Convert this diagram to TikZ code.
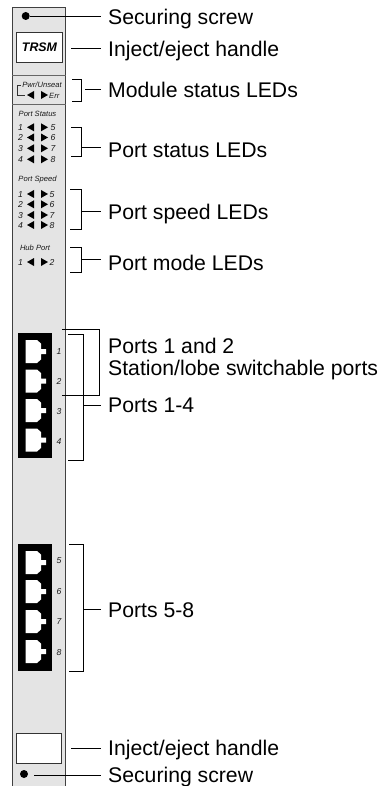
\documentclass[tikz,border=0pt]{standalone}
\usepackage{fontspec}
\setmainfont{Liberation Sans}
\tikzset{
  callout/.style = {anchor=west, inner ysep=0pt, inner xsep=7pt, align=left, text height=15pt, text depth=0pt, font=\fontsize{21.2}{22}\selectfont},
  leader/.style = {draw=black, line width=0.95pt},
  handle/.style = {draw=black!80, line width=1pt, fill=white, inner sep=0pt, minimum width=46pt, minimum height=30pt, anchor=north west},
  screw/.style = {circle, fill=black, inner sep=0pt, minimum size=8pt},
  tiny/.style = {inner sep=0pt, text=black!90, font=\fontsize{7.6}{8}\selectfont\itshape},
  digit/.style = {tiny, font=\fontsize{8.6}{9}\selectfont\itshape},
  jackblock/.style = {fill=black, inner sep=0pt, minimum width=34pt, anchor=north west},
  jack/.pic = {\fill[white] (0,0) -- (11.5,0) -- (15.5,3.5) -- (15.5,9) -- (20.5,9) -- (20.5,14) -- (15.5,14) -- (15.5,19.5) -- (11.5,23) -- (0,23) -- cycle;},
  ledpair/.pic = {\fill[black] (27,0) -- (34,-4) -- (34,4) -- cycle; \fill[black] (48,0) -- (41,-4) -- (41,4) -- cycle;}
}
\begin{document}
\begin{tikzpicture}[x=1pt, y=-1pt]
  \useasboundingbox (0,0) rectangle (381,786);
  % panel
  \fill[black!4!gray!20] (12,7.5) rectangle (65.7,786);
  \draw[black!75, line width=1pt] (12,786) -- (12,7.5) -- (65.7,7.5) -- (65.7,786);
  \draw[black!60, line width=0.8pt] (12,75) -- (65.7,75);
  \draw[black!60, line width=0.8pt] (12,104) -- (65.7,104);

  % top of the panel
  \node [screw] (topscrew) at (25.7,16) {};
  \node [handle, font=\fontsize{12.4}{13}\selectfont\bfseries\itshape] (tophandle) at (16,32) {TRSM};
  \node [callout] (topscrewtext) at (101,17) {Securing screw};
  \node [callout] (tophandletext) at (101,49) {Inject/eject handle};
  \draw [leader] (topscrew) -- (topscrew -| topscrewtext.west);
  \coordinate (tophandleend) at (71,48);
  \draw [leader] (tophandleend) -- (tophandleend -| tophandletext.west);

  % module status
  \node [tiny] (pwr) at (42,85) {Pwr/Unseat};
  \node [tiny, anchor=west] (err) at (49,95.5) {Err};
  \pic at (0,95) {ledpair};
  \draw [black!80, line width=0.6pt] (20.5,85) -- (17,85) -- (17,95) -- (25,95);
  \node [callout] (moduletext) at (101,90) {Module status LEDs};
  \coordinate (moduletop) at (72,79);
  \coordinate (modulebot) at (72,101);
  \coordinate (modulemid) at (85,89);
  \draw [leader] (moduletop) -- (81,79) -- (81,101) -- (modulebot);
  \draw [leader] (modulemid) -- (modulemid -| moduletext.west);

  % port status
  \node [tiny] (statustitle) at (37.5,113.7) {Port Status};
  \node [digit] (s1) at (20.5,127.5) {1}; \node [digit] (s5) at (53,127.5) {5}; \pic at (0,127.3) {ledpair};
  \node [digit] (s2) at (20.5,137.8) {2}; \node [digit] (s6) at (53,137.8) {6}; \pic at (0,137.5) {ledpair};
  \node [digit] (s3) at (20.5,148.5) {3}; \node [digit] (s7) at (53,148.5) {7}; \pic at (0,148.3) {ledpair};
  \node [digit] (s4) at (20.5,159.5) {4}; \node [digit] (s8) at (53,159.5) {8}; \pic at (0,159.3) {ledpair};
  \node [callout] (statustext) at (101,150) {Port status LEDs};
  \coordinate (statustop) at (71,127);
  \coordinate (statusbot) at (71,156);
  \coordinate (statusmid) at (81,147);
  \draw [leader] (statustop) -- (81,127) -- (81,156) -- (statusbot);
  \draw [leader] (statusmid) -- (statusmid -| statustext.west);

  % port speed
  \node [tiny] (speedtitle) at (37.5,180) {Port Speed};
  \node [digit] (p1) at (20.5,194.3) {1}; \node [digit] (p5) at (52,194.3) {5}; \pic at (0,194) {ledpair};
  \node [digit] (p2) at (20.5,204.6) {2}; \node [digit] (p6) at (52,204.6) {6}; \pic at (0,204.3) {ledpair};
  \node [digit] (p3) at (20.5,215.3) {3}; \node [digit] (p7) at (52,215.3) {7}; \pic at (0,215) {ledpair};
  \node [digit] (p4) at (20.5,225.3) {4}; \node [digit] (p8) at (52,225.3) {8}; \pic at (0,225) {ledpair};
  \node [callout] (speedtext) at (101,212) {Port speed LEDs};
  \coordinate (speedtop) at (70,189);
  \coordinate (speedbot) at (70,229);
  \coordinate (speedmid) at (81,211);
  \draw [leader] (speedtop) -- (81,189) -- (81,229) -- (speedbot);
  \draw [leader] (speedmid) -- (speedmid -| speedtext.west);

  % hub port
  \node [tiny] (hubtitle) at (35,248) {Hub Port};
  \node [digit] (h1) at (20.5,262.3) {1}; \node [digit] (h2) at (52,262.3) {2}; \pic at (0,262) {ledpair};
  \node [callout] (hubtext) at (101,263) {Port mode LEDs};
  \coordinate (hubtop) at (70,247);
  \coordinate (hubbot) at (70,272);
  \coordinate (hubmid) at (81,259);
  \draw [leader] (hubtop) -- (81,247) -- (81,272) -- (hubbot);
  \draw [leader] (hubmid) -- (hubmid -| hubtext.west);

  % ports 1 to 4
  \node [jackblock, minimum height=125pt] (blockone) at (18,333) {};
  \pic at (25.5,340) {jack};
  \pic at (25.5,369.5) {jack};
  \pic at (25.5,399) {jack};
  \pic at (25.5,428.5) {jack};
  \node [digit] (n1) at (59,352) {1};
  \node [digit] (n2) at (59,381) {2};
  \node [digit] (n3) at (59,412) {3};
  \node [digit] (n4) at (59,442) {4};
  \node [callout] (pairtext) at (101,368) {Ports 1 and 2\\Station/lobe switchable ports};
  \coordinate (pairtop) at (62,329);
  \coordinate (pairbot) at (62,395);
  \draw [leader] (pairtop) -- (99,329) -- (99,395) -- (pairbot);
  \node [callout] (fourtext) at (101,405) {Ports 1-4};
  \coordinate (fourtop) at (68,334);
  \coordinate (fourbot) at (68,460);
  \coordinate (fourmid) at (83,405);
  \draw [leader] (fourtop) -- (83,334) -- (83,460) -- (fourbot);
  \draw [leader] (fourmid) -- (fourmid -| fourtext.west);

  % ports 5 to 8
  \node [jackblock, minimum height=127pt] (blocktwo) at (18,544) {};
  \pic at (25.5,551) {jack};
  \pic at (25.5,580) {jack};
  \pic at (25.5,610) {jack};
  \pic at (25.5,640) {jack};
  \node [digit] (n5) at (59,561) {5};
  \node [digit] (n6) at (59,592) {6};
  \node [digit] (n7) at (59,622) {7};
  \node [digit] (n8) at (59,653) {8};
  \node [callout] (eighttext) at (101,610) {Ports 5-8};
  \coordinate (eighttop) at (69,544);
  \coordinate (eightbot) at (69,671);
  \coordinate (eightmid) at (83,609);
  \draw [leader] (eighttop) -- (83,544) -- (83,671) -- (eightbot);
  \draw [leader] (eightmid) -- (eightmid -| eighttext.west);

  % bottom of the panel
  \node [handle, minimum width=45pt] (bothandle) at (16,733) {};
  \node [screw] (botscrew) at (24,774) {};
  \node [callout] (bothandletext) at (101,748) {Inject/eject handle};
  \node [callout] (botscrewtext) at (101,775) {Securing screw};
  \coordinate (bothandleend) at (71,748);
  \coordinate (botscrewend) at (34,775);
  \draw [leader] (bothandleend) -- (bothandleend -| bothandletext.west);
  \draw [leader] (botscrewend) -- (botscrewend -| botscrewtext.west);
\end{tikzpicture}
\end{document}
